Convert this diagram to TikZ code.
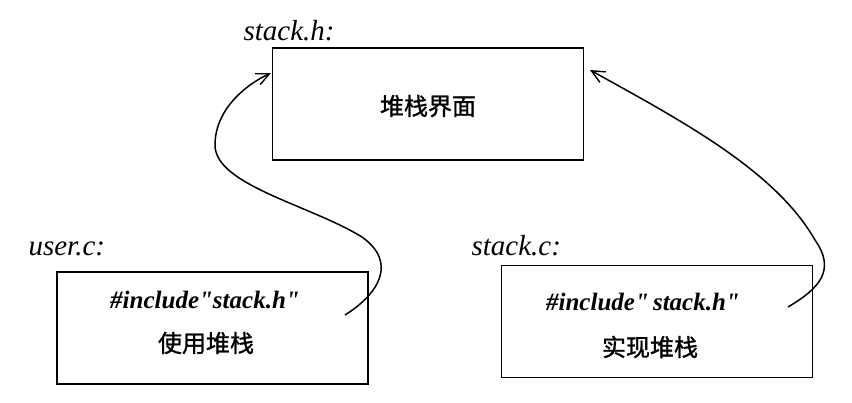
\documentclass[tikz,border=0pt]{standalone}
\usepackage{fontspec}
\setmainfont{Liberation Serif}
\newfontfamily\cjk[FakeBold=1.2]{Noto Sans CJK SC}
\usetikzlibrary{arrows.meta,positioning}

\begin{document}
\begin{tikzpicture}[x=1pt,y=-1pt,
        filebox/.style={draw,line width=1.6pt,minimum width=311pt,minimum height=112pt,inner sep=0pt},
        fname/.style={anchor=base west,font=\fontsize{29}{30}\selectfont\itshape},
        code/.style={font=\fontsize{25}{26}\selectfont\bfseries\itshape},
        cn/.style={font=\fontsize{24}{25}\selectfont\cjk},
        incl/.style={line width=1.5pt,-{Straight Barb[length=13pt,width=12pt,line width=1.4pt]}}]
    \useasboundingbox (0,0) rectangle (852,402);
    % the three files
    \node[filebox] (iface) at (428,104) {};
    \node[filebox] (user) at (212.5,328) {};
    \node[filebox] (impl) at (657,321.5) {};
    \node[fname] (ifacename) at (240,40) {stack.h:};
    \node[fname] (username) at (25,255) {user.c:};
    \node[fname] (implname) at (468,255) {stack.c:};
    \node[cn] (ifacetext) at (428,106) {堆栈界面};
    \node[code] (userinc) at (205,300) {\#include\textquotedbl stack.h\textquotedbl};
    \node[cn] (usertext) at (206,343) {使用堆栈};
    \node[code] (implinc) at (643,302) {\#include\textquotedbl\,stack.h\textquotedbl};
    \node[cn] (impltext) at (650,347) {实现堆栈};
    % include arrows
    \coordinate (userfrom) at (345,315);
    \coordinate (implfrom) at (788,307);
    \coordinate (ifaceL) at (271,73);
    \coordinate (ifaceR) at (590,70);
    \draw[incl] (userfrom) .. controls (380,293) and (397,262) .. (362,237)
        .. controls (310,205) and (215,185) .. (215,145)
        .. controls (215,110) and (245,85) .. (ifaceL);
    \draw[incl] (implfrom) .. controls (820,288) and (836,270) .. (815,240)
        .. controls (775,170) and (680,120) .. (ifaceR);
\end{tikzpicture}
\end{document}
